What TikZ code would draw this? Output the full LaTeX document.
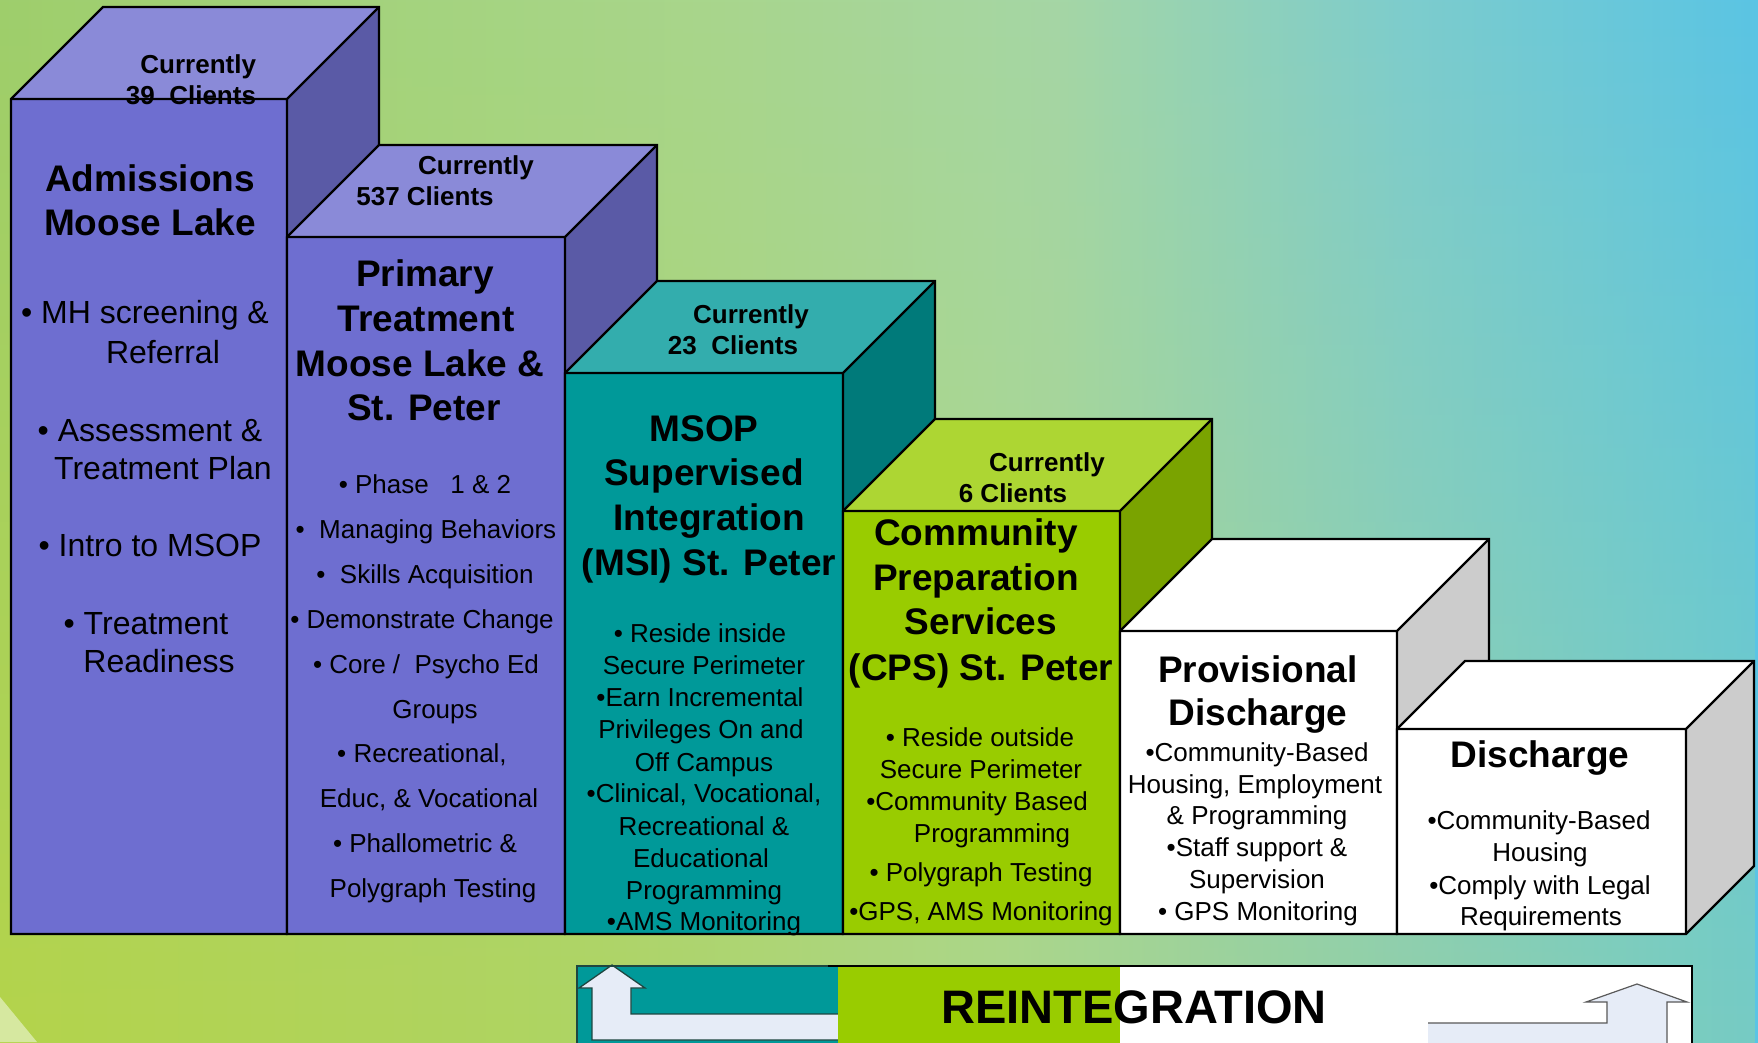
\documentclass[tikz,border=0pt]{standalone}
\usepackage{fontspec}
\setmainfont{Liberation Sans}
\usetikzlibrary{fadings}
\definecolor{pfront}{RGB}{110,110,208}
\definecolor{ptop}{RGB}{138,138,216}
\definecolor{pside}{RGB}{90,90,166}
\definecolor{tfront}{RGB}{0,153,153}
\definecolor{ttop}{RGB}{51,173,173}
\definecolor{tside}{RGB}{0,122,122}
\definecolor{gfront}{RGB}{153,204,0}
\definecolor{gtop}{RGB}{173,214,51}
\definecolor{gside}{RGB}{122,163,0}
\definecolor{wside}{RGB}{204,204,204}
\definecolor{arrowfill}{RGB}{230,236,247}
\definecolor{tealline}{RGB}{30,70,64}
\definecolor{paletri}{RGB}{214,232,160}
\pgfdeclarehorizontalshading{topshade}{100bp}{rgb(0bp)=(0.62,0.808,0.424); rgb(25bp)=(0.62,0.808,0.424); rgb(45bp)=(0.659,0.839,0.549); rgb(55bp)=(0.647,0.839,0.647); rgb(65bp)=(0.49,0.8,0.804); rgb(75bp)=(0.353,0.769,0.894); rgb(100bp)=(0.353,0.769,0.894)}
\pgfdeclarehorizontalshading{botshade}{100bp}{rgb(0bp)=(0.706,0.831,0.294); rgb(25bp)=(0.706,0.831,0.294); rgb(42bp)=(0.686,0.831,0.392); rgb(53.5bp)=(0.675,0.839,0.529); rgb(65bp)=(0.569,0.816,0.667); rgb(75bp)=(0.463,0.8,0.769); rgb(100bp)=(0.463,0.8,0.769)}
\tikzfading[name=vfade, top color=transparent!100, bottom color=transparent!0]
\newcommand\ttlfont{\fontsize{37}{44}\selectfont\bfseries}
\newcommand\curfont{\fontsize{26}{31}\selectfont\bfseries}
\newcommand\lstfont{\fontsize{26}{32}\selectfont}
\newcommand\lstbig{\fontsize{32}{38}\selectfont}
\newcommand\reifont{\fontsize{47}{56}\selectfont\bfseries}
\newcommand\mycube[7]{%
  \fill[#5] (#1,#3) rectangle (#2,934);
  \fill[#6] (#1,#3) -- ({#1+#4},{#3-#4}) -- ({#2+#4},{#3-#4}) -- (#2,#3) -- cycle;
  \fill[#7] (#2,#3) -- ({#2+#4},{#3-#4}) -- ({#2+#4},{934-#4}) -- (#2,934) -- cycle;
  \draw[edge] (#1,934) -- (#1,#3) -- ({#1+#4},{#3-#4}) -- ({#2+#4},{#3-#4}) -- ({#2+#4},{934-#4}) -- (#2,934) -- cycle;
  \draw[edge] (#1,#3) -- (#2,#3) -- ({#2+#4},{#3-#4}) (#2,#3) -- (#2,934);
}
\tikzset{
  edge/.style={draw=black, line width=2.2pt, line join=miter},
  t/.style={anchor=base, inner sep=0pt, outer sep=0pt, text=black},
  ttl/.style={t, font=\ttlfont},
  cur/.style={t, font=\curfont},
  lst/.style={t, font=\lstfont},
  big/.style={t, font=\lstbig},
}
\begin{document}
\begin{tikzpicture}[x=1pt,y=-1pt]
\useasboundingbox (0,0) rectangle (1758,1042);
\clip (0,0) rectangle (1758,1042);
% background
\shade[shading=topshade] (0,0) rectangle (1758,1042);
\shade[shading=botshade, path fading=vfade] (0,0) rectangle (1758,1042);
\fill[paletri] (0,997) -- (37,1042) -- (0,1042) -- cycle;
% cubes
\mycube{11}{287}{99}{92}{pfront}{ptop}{pside}
\mycube{287}{565}{237}{92}{pfront}{ptop}{pside}
\mycube{565}{843}{373}{92}{tfront}{ttop}{tside}
\mycube{843}{1120}{511}{92}{gfront}{gtop}{gside}
\mycube{1120}{1397}{631}{92}{white}{white}{wside}
\mycube{1397}{1686}{729}{68}{white}{white}{wside}
% box 1
\node[cur, anchor=base east] (c1a) at (256,73) {Currently};
\node[cur, anchor=base east] (c1b) at (256,104) {39\ \ Clients};
\node[ttl] (h1a) at (150,191) {Admissions};
\node[ttl] (h1b) at (150,235) {Moose Lake};
\node[big] (l1a) at (145,323) {• MH screening \&};
\node[big] (l1b) at (163,363) {Referral};
\node[big] (l1c) at (150,441) {• Assessment \&};
\node[big] (l1d) at (163,479) {Treatment Plan};
\node[big] (l1e) at (150,556) {• Intro to MSOP};
\node[big] (l1f) at (146,634) {• Treatment};
\node[big] (l1g) at (159,672) {Readiness};
% box 2
\node[cur] (c2a) at (476,174) {Currently};
\node[cur] (c2b) at (425,205) {537 Clients};
\node[ttl] (h2a) at (425,286) {Primary};
\node[ttl] (h2b) at (426,331) {Treatment};
\node[ttl] (h2c) at (420,376) {Moose Lake \&};
\node[ttl] (h2d) at (424,420) {St. Peter};
\node[lst] (l2a) at (425,493) {• Phase\ \ \ 1 \& 2};
\node[lst] (l2b) at (426,538) {•\ \ Managing Behaviors};
\node[lst] (l2c) at (425,583) {•\ \ Skills Acquisition};
\node[lst] (l2d) at (422,628) {• Demonstrate Change};
\node[lst] (l2e) at (426,673) {• Core /\ \ Psycho Ed};
\node[lst] (l2f) at (435,718) {Groups};
\node[lst] (l2g) at (422,762) {• Recreational,};
\node[lst] (l2h) at (429,807) {Educ, \& Vocational};
\node[lst] (l2i) at (425,852) {• Phallometric \&};
\node[lst] (l2j) at (433,897) {Polygraph Testing};
% box 3
\node[cur] (c3a) at (751,323) {Currently};
\node[cur] (c3b) at (733,354) {23\ \ Clients};
\node[ttl] (h3a) at (704,441) {MSOP};
\node[ttl] (h3b) at (704,485) {Supervised};
\node[ttl] (h3c) at (709,530) {Integration};
\node[ttl] (h3d) at (709,575) {(MSI) St. Peter};
\node[lst] (l3a) at (700,642) {• Reside inside};
\node[lst] (l3b) at (704,674) {Secure Perimeter};
\node[lst] (l3c) at (700,706) {•Earn Incremental};
\node[lst] (l3d) at (701,738) {Privileges On and};
\node[lst] (l3e) at (704,771) {Off Campus};
\node[lst] (l3f) at (704,802) {•Clinical, Vocational,};
\node[lst] (l3g) at (704,835) {Recreational \&};
\node[lst] (l3h) at (701,867) {Educational};
\node[lst] (l3i) at (704,899) {Programming};
\node[lst] (l3j) at (704,930) {•AMS Monitoring};
% box 4
\node[cur] (c4a) at (1047,471) {Currently};
\node[cur] (c4b) at (1013,502) {6 Clients};
\node[ttl] (h4a) at (976,545) {Community};
\node[ttl] (h4b) at (976,590) {Preparation};
\node[ttl] (h4c) at (981,634) {Services};
\node[ttl] (h4d) at (981,680) {(CPS) St. Peter};
\node[lst] (l4a) at (980,746) {• Reside outside};
\node[lst] (l4b) at (981,778) {Secure Perimeter};
\node[lst] (l4c) at (977,810) {•Community Based};
\node[lst] (l4d) at (992,842) {Programming};
\node[lst] (l4e) at (981,881) {• Polygraph Testing};
\node[lst] (l4f) at (981,920) {•GPS, AMS Monitoring};
% box 5
\node[ttl] (h5a) at (1258,682) {Provisional};
\node[ttl] (h5b) at (1258,725) {Discharge};
\node[lst] (l5a) at (1257,761) {•Community-Based};
\node[lst] (l5b) at (1255,793) {Housing, Employment};
\node[lst] (l5c) at (1257,824) {\& Programming};
\node[lst] (l5d) at (1257,856) {•Staff support \&};
\node[lst] (l5e) at (1257,888) {Supervision};
\node[lst] (l5f) at (1258,920) {• GPS Monitoring};
% box 6
\node[ttl] (h6a) at (1540,767) {Discharge};
\node[lst] (l6a) at (1539,829) {•Community-Based};
\node[lst] (l6b) at (1540,861) {Housing};
\node[lst] (l6c) at (1540,894) {•Comply with Legal};
\node[lst] (l6d) at (1541,925) {Requirements};
% reintegration bar
\fill[tfront] (577,966) rectangle (838,1050);
\fill[arrowfill] (592,1040) -- (592,988) -- (579,988) -- (612,965) -- (645,988) -- (631,988) -- (631,1014) -- (838,1014) -- (838,1040) -- cycle;
\draw[tealline, line width=1.3pt, line join=miter] (838,1040) -- (592,1040) -- (592,988) -- (579,988) -- (612,965) -- (645,988) -- (631,988) -- (631,1014) -- (838,1014);
\fill[gfront] (838,966) rectangle (1120,1050);
\fill[white] (1120,966) rectangle (1692,1050);
\fill[arrowfill] (1428,1023) -- (1607,1023) -- (1607,1002) -- (1586,1002) -- (1637,984) -- (1687,1002) -- (1667,1002) -- (1667,1050) -- (1428,1050) -- cycle;
\draw[black!65, line width=1.2pt, line join=miter] (1428,1023) -- (1607,1023) -- (1607,1002) -- (1586,1002) -- (1637,984) -- (1687,1002) -- (1667,1002) -- (1667,1050);
\draw[tealline, line width=1.5pt] (577,1050) -- (577,966) -- (828,966);
\draw[black, line width=2.5pt] (828,966) -- (1692,966) -- (1692,1050);
\node[t, font=\reifont] (rei) at (1134,1023) {REINTEGRATION};
\end{tikzpicture}
\end{document}
